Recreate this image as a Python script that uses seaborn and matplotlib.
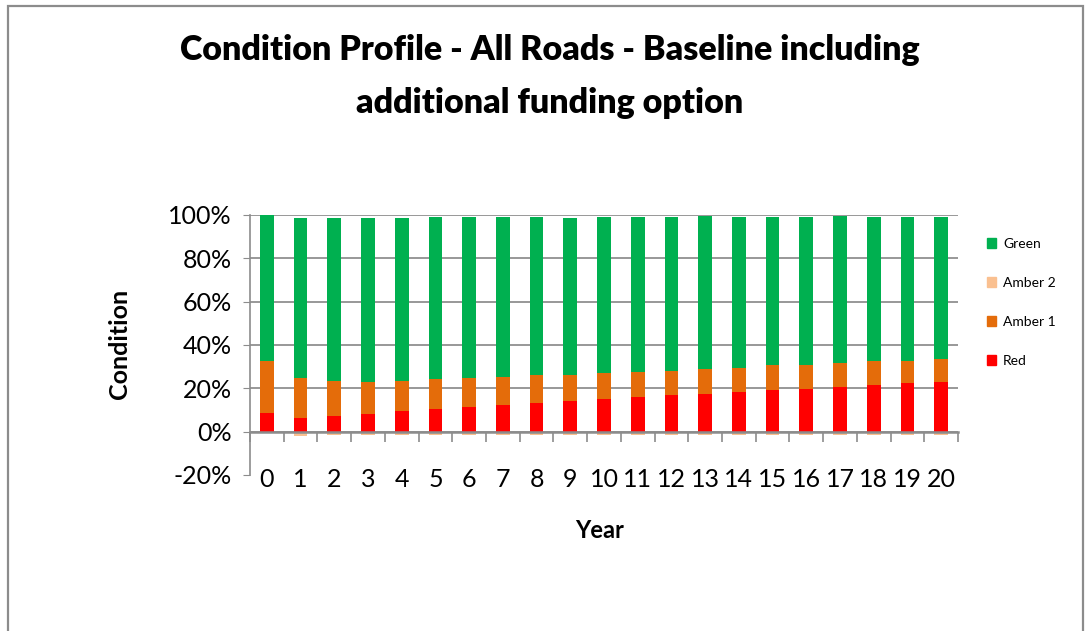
import numpy as np
import pandas as pd
import matplotlib
matplotlib.use("Agg")
import matplotlib.pyplot as plt
from matplotlib.ticker import PercentFormatter, FixedLocator
from matplotlib.patches import Rectangle, Patch
import seaborn as sns

# Data (percent of network)
years = [str(y) for y in range(21)]
red = [8.8, 6.3, 7.3, 8.2, 9.6, 10.5, 11.6, 12.3, 13.3, 14.2, 15.1,
       16.0, 17.0, 17.4, 18.4, 19.3, 19.8, 20.7, 21.6, 22.5, 23.0]
amber1 = [23.6, 18.7, 16.2, 14.9, 13.9, 13.6, 13.4, 13.0, 12.9, 12.0, 12.1,
          11.6, 11.1, 11.6, 11.2, 11.3, 11.2, 11.1, 10.8, 10.2, 10.6]
amber2 = [0.0, -1.9, -1.4, -1.4, -1.4, -1.4, -1.4, -1.4, -1.4, -1.4, -1.4,
          -1.4, -1.4, -1.4, -1.4, -1.4, -1.4, -1.4, -1.4, -1.4, -1.4]
green = [67.6, 73.5, 75.0, 75.4, 75.0, 74.8, 73.9, 73.6, 72.7, 72.3, 71.7,
         71.3, 70.8, 70.4, 69.3, 68.3, 67.9, 67.6, 66.5, 66.2, 65.3]

colors = {"Green": "#00B050", "Amber 2": "#FAC090",
          "Amber 1": "#E46C0A", "Red": "#FF0000"}

sns.set_style("white")
plt.rcParams["font.family"] = ["Lato", "DejaVu Sans"]
plt.rcParams["axes.unicode_minus"] = False
plt.rcParams["text.color"] = "black"
plt.rcParams["xtick.color"] = "black"
plt.rcParams["ytick.color"] = "black"

df = pd.DataFrame({"year": years, "red": red, "amber1": amber1,
                   "amber2": amber2, "green": green})
df["red_amber"] = df["red"] + df["amber1"]
df["total"] = df["red_amber"] + df["green"]

fig = plt.figure(figsize=(10.88, 6.31), dpi=100)
ax = fig.add_axes([250 / 1088, 1 - 475 / 631, 708 / 1088, 260 / 631])

# stacked bars drawn back to front
bw = 0.41
for col, name in [("total", "Green"), ("red_amber", "Amber 1"),
                  ("red", "Red"), ("amber2", "Amber 2")]:
    sns.barplot(data=df, x="year", y=col, order=years, color=colors[name],
                saturation=1, width=bw, errorbar=None, ax=ax, zorder=3,
                linewidth=0, edgecolor="none")

ax.set_xlim(-0.5, len(years) - 0.5)
ax.set_ylim(-20, 100)
ax.set_yticks(np.arange(-20, 101, 20))
ax.yaxis.set_major_formatter(PercentFormatter(100, decimals=0))
ax.grid(axis="y", color="#868686", lw=1.2, zorder=0)
ax.get_ygridlines()[0].set_visible(False)
ax.set_axisbelow(True)

for s in ["top", "right"]:
    ax.spines[s].set_visible(False)
ax.spines["left"].set_color("#8c8c8c")
ax.spines["left"].set_linewidth(1.2)
ax.spines["bottom"].set_position(("data", 0))
ax.spines["bottom"].set_color("#8c8c8c")
ax.spines["bottom"].set_linewidth(1.8)
ax.spines["bottom"].set_zorder(4)

ax.tick_params(axis="y", length=5, color="#8c8c8c", labelcolor="black",
               labelsize=18, pad=8, left=True)
ax.tick_params(axis="x", which="major", length=0, labelsize=18, pad=26,
               labelcolor="black")
ax.xaxis.set_minor_locator(FixedLocator(np.arange(len(years) + 1) - 0.5))
ax.tick_params(axis="x", which="minor", length=7, width=1.2, color="#8c8c8c",
               direction="out", bottom=True)

ax.set_xlabel("")
ax.set_ylabel("")
fig.text(120 / 1088, 1 - 344 / 631, "Condition", rotation=90, ha="center",
         va="center", fontsize=18, fontweight="bold")
fig.text(600 / 1088, 1 - 530 / 631, "Year", ha="center", va="center",
         fontsize=17, fontweight="bold")

fig.text(550 / 1088, 1 - 50 / 631, "Condition Profile - All Roads - Baseline including",
         ha="center", va="center", fontsize=24.5, fontweight="heavy")
fig.text(550 / 1088, 1 - 103 / 631, "additional funding option",
         ha="center", va="center", fontsize=24.5, fontweight="heavy")

handles = [Patch(color=colors[n], label=n) for n in ["Green", "Amber 2", "Amber 1", "Red"]]
fig.legend(handles=handles, loc="upper left", bbox_to_anchor=(981 / 1088, 1 - 232 / 631),
           frameon=False, fontsize=10, handlelength=0.7, handleheight=0.7,
           handletextpad=0.5, labelspacing=1.95, borderaxespad=0)

# outer chart border
fig.add_artist(Rectangle((8 / 1088, -0.05), 1075 / 1088, 1.05 - 6 / 631,
                         transform=fig.transFigure, fill=False,
                         edgecolor="#8c8c8c", lw=1.6))

fig.savefig("out.png", dpi=100)
